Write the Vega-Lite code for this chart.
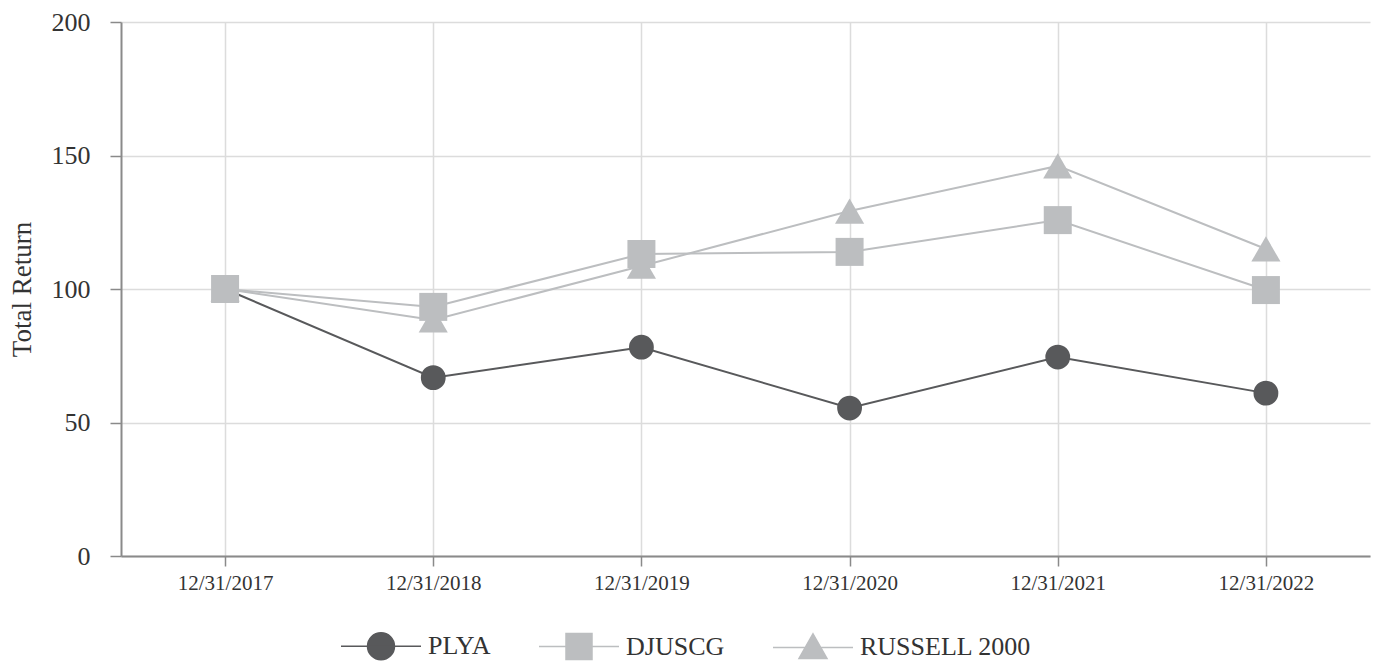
{
  "$schema": "https://vega.github.io/schema/vega-lite/v6.json",
  "autosize": {"type": "none"},
  "padding": {"left": 121, "top": 22, "right": 8, "bottom": 105},
  "width": 1249,
  "height": 534,
  "background": "white",
  "config": {
    "font": "Liberation Serif",
    "view": {"stroke": null},
    "axis": {"labelFont": "Liberation Serif", "titleFont": "Liberation Serif", "labelColor": "#333333", "titleColor": "#333333"},
    "legend": {"labelFont": "Liberation Serif"},
    "text": {"font": "Liberation Serif"}
  },
  "data": {
    "values": [
      {"date": "12/31/2017", "series": "PLYA", "value": 100},
      {"date": "12/31/2018", "series": "PLYA", "value": 66.8},
      {"date": "12/31/2019", "series": "PLYA", "value": 78.2},
      {"date": "12/31/2020", "series": "PLYA", "value": 55.4},
      {"date": "12/31/2021", "series": "PLYA", "value": 74.5},
      {"date": "12/31/2022", "series": "PLYA", "value": 61.0},
      {"date": "12/31/2017", "series": "RUSSELL 2000", "value": 100},
      {"date": "12/31/2018", "series": "RUSSELL 2000", "value": 88.4},
      {"date": "12/31/2019", "series": "RUSSELL 2000", "value": 108.6},
      {"date": "12/31/2020", "series": "RUSSELL 2000", "value": 129.2},
      {"date": "12/31/2021", "series": "RUSSELL 2000", "value": 146.1},
      {"date": "12/31/2022", "series": "RUSSELL 2000", "value": 115.0},
      {"date": "12/31/2017", "series": "DJUSCG", "value": 100},
      {"date": "12/31/2018", "series": "DJUSCG", "value": 93.3},
      {"date": "12/31/2019", "series": "DJUSCG", "value": 113.1},
      {"date": "12/31/2020", "series": "DJUSCG", "value": 113.9},
      {"date": "12/31/2021", "series": "DJUSCG", "value": 125.8},
      {"date": "12/31/2022", "series": "DJUSCG", "value": 99.6}
    ]
  },
  "encoding": {
    "x": {
      "field": "date", "type": "ordinal", "sort": null,
      "scale": {"type": "point", "padding": 0.5},
      "axis": {
        "title": null, "labelAngle": 0, "labelFontSize": 21, "labelPadding": 6,
        "labelFont": "Liberation Serif",
        "grid": true, "gridColor": "#dcdcdc", "gridWidth": 1.5,
        "domainColor": "#8a8a8a", "domainWidth": 2,
        "tickColor": "#8a8a8a", "tickSize": 10, "tickWidth": 1.5
      }
    },
    "y": {
      "field": "value", "type": "quantitative",
      "scale": {"domain": [0, 200]},
      "axis": {
        "title": "Total Return", "titleFontSize": 27, "titleFontWeight": "normal", "titlePadding": 15,
        "titleFont": "Liberation Serif", "labelFont": "Liberation Serif",
        "values": [0, 50, 100, 150, 200], "labelFontSize": 26, "labelPadding": 20,
        "grid": true, "gridColor": "#dcdcdc", "gridWidth": 1.5,
        "domainColor": "#8a8a8a", "domainWidth": 2,
        "tickColor": "#8a8a8a", "tickSize": 11, "tickWidth": 1.5
      }
    }
  },
  "layer": [
    {
      "mark": {"type": "point", "filled": true, "opacity": 1, "size": 1},
      "encoding": {
        "color": {
          "field": "series", "type": "nominal",
          "scale": {"domain": ["PLYA", "DJUSCG", "RUSSELL 2000"], "range": ["#58595b", "#bcbec0", "#bcbec0"]},
          "legend": {
            "title": null, "orient": "none", "direction": "horizontal",
            "legendX": 219, "legendY": 583,
            "labelFont": "Liberation Serif",
            "labelFontSize": 26, "labelColor": "#333333", "labelOffset": 6, "labelLimit": 400,
            "columnPadding": 45,
            "symbolSize": 6400, "symbolStrokeWidth": 1.5, "symbolOpacity": 1
          }
        },
        "stroke": {
          "field": "series", "type": "nominal",
          "scale": {"domain": ["PLYA", "DJUSCG", "RUSSELL 2000"], "range": ["#58595b", "#bcbec0", "#bcbec0"]},
          "legend": {
            "title": null, "orient": "none", "direction": "horizontal",
            "legendX": 219, "legendY": 583,
            "labelFont": "Liberation Serif",
            "labelFontSize": 26, "labelColor": "#333333", "labelOffset": 6, "labelLimit": 400,
            "columnPadding": 45,
            "symbolSize": 6400, "symbolStrokeWidth": 1.5, "symbolOpacity": 1
          }
        },
        "shape": {
          "field": "series", "type": "nominal",
          "scale": {"domain": ["PLYA", "DJUSCG", "RUSSELL 2000"], "range": [
            "M-1,0H1M-0.3375,0A0.3375,0.3375,0,1,0,0.3375,0A0.3375,0.3375,0,1,0,-0.3375,0Z",
            "M-1,0H1M-0.325,-0.325H0.325V0.325H-0.325Z",
            "M-1,0H1M0,-0.34L0.35,0.28H-0.35Z"
          ]},
          "legend": {
            "title": null, "orient": "none", "direction": "horizontal",
            "legendX": 219, "legendY": 583,
            "labelFont": "Liberation Serif",
            "labelFontSize": 26, "labelColor": "#333333", "labelOffset": 6, "labelLimit": 400,
            "columnPadding": 45,
            "symbolSize": 6400, "symbolStrokeWidth": 1.5, "symbolOpacity": 1
          }
        }
      }
    },
    {
      "mark": {"type": "line", "strokeWidth": 2},
      "encoding": {
        "color": {
          "field": "series", "type": "nominal",
          "scale": {"domain": ["PLYA", "DJUSCG", "RUSSELL 2000"], "range": ["#58595b", "#bcbec0", "#bcbec0"]},
          "legend": null
        }
      }
    },
    {
      "transform": [{"filter": "datum.series === 'PLYA'"}],
      "mark": {"type": "point", "shape": "circle", "filled": true, "opacity": 1, "size": 616, "color": "#58595b"}
    },
    {
      "transform": [{"filter": "datum.series === 'RUSSELL 2000'"}],
      "mark": {"type": "point", "shape": "triangle-up", "filled": true, "opacity": 1, "size": 850, "color": "#bcbec0"}
    },
    {
      "transform": [{"filter": "datum.series === 'DJUSCG'"}],
      "mark": {"type": "point", "shape": "square", "filled": true, "opacity": 1, "size": 784, "color": "#bcbec0"}
    }
  ]
}
